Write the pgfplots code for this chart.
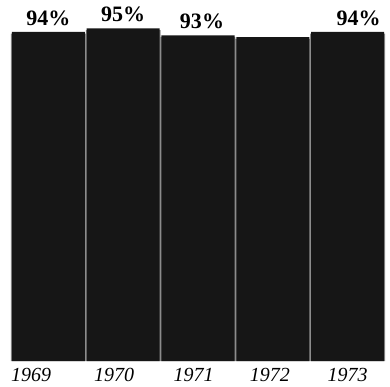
\documentclass[border=0pt]{standalone}
\usepackage{pgfplots}
\pgfplotsset{compat=1.18}
\usepackage{fontspec}
\setmainfont{Liberation Serif}
\definecolor{barfill}{RGB}{22,22,22}
\definecolor{gapcol}{RGB}{140,140,140}
\begin{document}
\begin{tikzpicture}[x=1pt,y=1pt]
\path[use as bounding box] (0,0) rectangle (390,386);
\begin{axis}[
  at={(11pt,25pt)}, anchor=south west,
  scale only axis, width=374pt, height=350pt,
  xmin=-0.5, xmax=4.5, ymin=0, ymax=100,
  axis line style={draw=none},
  major tick length=0pt,
  ytick=\empty,
  xtick={-0.23,0.88,1.94,2.96,4.0},
  xticklabels={1969,1970,1971,1972,1973},
  xticklabel style={font=\fontsize{20}{23}\selectfont\itshape, yshift=-4pt},
  ybar, bar shift=0pt,
  clip=false,
]
\addplot[fill=gapcol, draw=none, bar width=74.8pt] coordinates {
  (0,93.5) (1,94.5) (2,92.5) (3,92) (4,93.5)
};
\addplot[fill=barfill, draw=none, bar width=73pt,
  point meta=explicit symbolic, nodes near coords,
  every node near coord/.append style={font=\fontsize{22}{26}\selectfont\bfseries, yshift=3pt}] coordinates {
  (0,94) [94\%]
  (1,95) [95\%]
  (2,93) [\hspace*{8pt}93\%]
  (3,92.5) [\relax]
  (4,94) [\hspace*{22pt}94\%]
};
\end{axis}
\end{tikzpicture}
\end{document}
